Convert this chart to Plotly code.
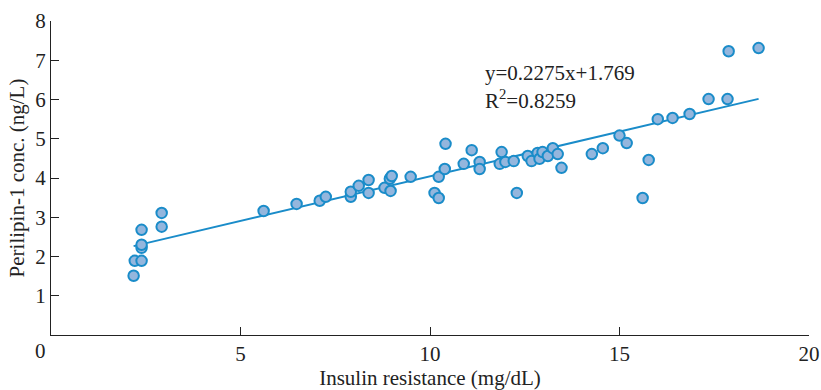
import plotly.graph_objects as go

insulin_resistance = [2.18, 2.21, 2.39, 2.39, 2.39, 2.39, 2.92, 2.92, 5.61, 6.48,
                      7.09, 7.25, 7.91, 7.91, 8.12, 8.38, 8.38, 8.80, 8.96, 8.94,
                      8.99, 9.49, 10.12, 10.23, 10.23, 10.39, 10.41, 10.89, 11.10, 11.31,
                      11.31, 11.84, 11.89, 11.99, 12.21, 12.29, 12.58, 12.68, 12.84, 12.89,
                      12.97, 13.11, 13.24, 13.37, 13.47, 14.27, 14.56, 15.00, 15.19, 15.61,
                      15.77, 16.01, 16.40, 16.85, 17.35, 17.85, 17.88, 18.67]
perilipin = [1.51, 1.89, 1.89, 2.22, 2.30, 2.68, 3.11, 2.76, 3.16, 3.34,
             3.42, 3.52, 3.52, 3.65, 3.80, 3.62, 3.95, 3.75, 3.67, 3.98,
             4.05, 4.03, 3.62, 3.49, 4.03, 4.23, 4.87, 4.36, 4.71, 4.41,
             4.23, 4.36, 4.66, 4.41, 4.43, 3.62, 4.56, 4.43, 4.64, 4.49,
             4.66, 4.56, 4.76, 4.61, 4.26, 4.61, 4.76, 5.08, 4.89, 3.49,
             4.46, 5.50, 5.53, 5.63, 6.01, 6.01, 7.23, 7.31]

slope = 0.2275
intercept = 1.769
r_squared = 0.8259

x_ticks = [5, 10, 15, 20]
y_ticks = [1, 2, 3, 4, 5, 6, 7, 8]

FONT = "Liberation Serif, Times New Roman, serif"
TXT = "#222"
LINE_COLOR = "#1a8cc9"
FILL_COLOR = "#94b6dd"
FS = 21

x_fit = [min(insulin_resistance), max(insulin_resistance)]
y_fit = [slope * v + intercept for v in x_fit]

fig = go.Figure()
fig.add_trace(go.Scatter(x=x_fit, y=y_fit, mode="lines",
                         line=dict(color=LINE_COLOR, width=2), showlegend=False,
                         hoverinfo="skip"))
fig.add_trace(go.Scatter(x=insulin_resistance, y=perilipin, mode="markers",
                         marker=dict(size=10.5, color=FILL_COLOR,
                                     line=dict(color=LINE_COLOR, width=2)),
                         showlegend=False))

fig.add_annotation(x=11.4, y=6.67, xref="x", yref="y", xanchor="left", yanchor="middle",
                   text=f"y={slope}x+{intercept}", showarrow=False,
                   font=dict(family=FONT, size=FS, color=TXT))
fig.add_annotation(x=11.4, y=6.01, xref="x", yref="y", xanchor="left", yanchor="middle",
                   text=f"R<sup>2</sup>={r_squared}", showarrow=False,
                   font=dict(family=FONT, size=FS, color=TXT))
fig.add_annotation(x=-0.0145, y=-0.052, xref="paper", yref="paper", text="0",
                   showarrow=False, xanchor="center", yanchor="middle",
                   font=dict(family=FONT, size=FS, color=TXT))

axis_common = dict(showline=True, linecolor=TXT, linewidth=1.2, ticks="inside",
                   ticklen=8, tickcolor=TXT, tickwidth=1.2, showgrid=False,
                   zeroline=False, automargin=False,
                   tickfont=dict(family=FONT, size=FS, color=TXT))

fig.update_layout(
    width=821, height=390,
    margin=dict(l=51, r=12, t=21, b=55),
    plot_bgcolor="white", paper_bgcolor="white",
    xaxis=dict(range=[0, 20], tickvals=x_ticks, **axis_common,
               title=dict(text="Insulin resistance (mg/dL)", standoff=4,
                          font=dict(family=FONT, size=FS, color=TXT))),
    yaxis=dict(range=[0, 8], tickvals=y_ticks, **axis_common,
               title=dict(text="Perilipin-1 conc. (ng/L)", standoff=4,
                          font=dict(family=FONT, size=FS, color=TXT))),
)

fig.write_html("out.html")
